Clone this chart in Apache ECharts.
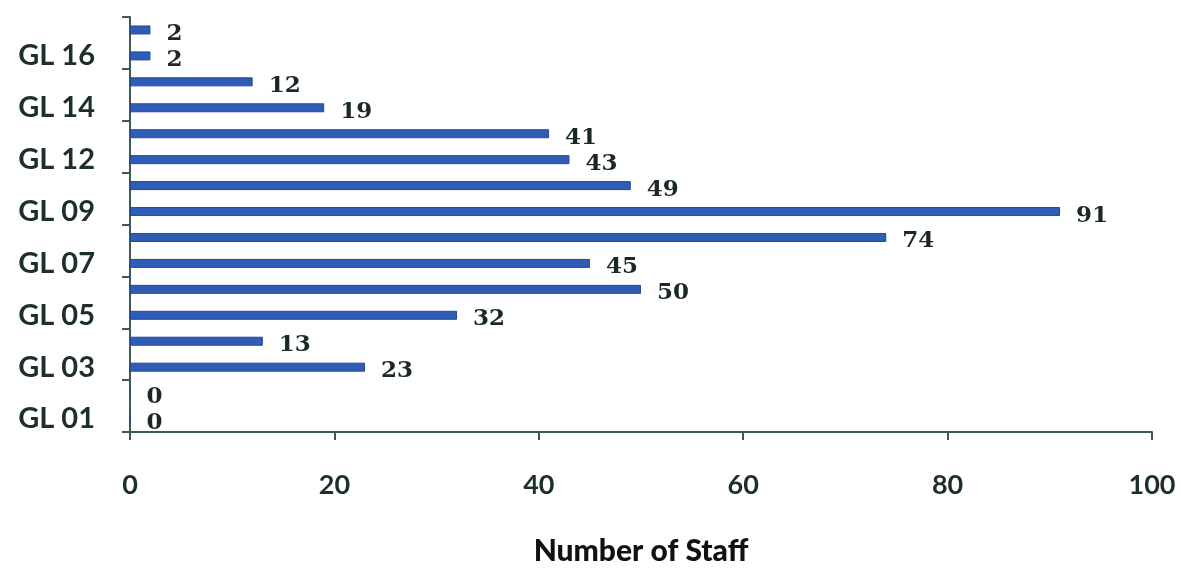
<!DOCTYPE html>
<html>
<head>
<meta charset="utf-8">
<script src="https://cdn.jsdelivr.net/npm/echarts@6/dist/echarts.min.js"></script>
<style>html,body{margin:0;padding:0;background:#fff}#c{width:1181px;height:571px}</style>
</head>
<body>
<div id="c"></div>
<script>
const categories = ['GL 01','GL 02','GL 03','GL 04','GL 05','GL 06','GL 07','GL 08','GL 09','GL 10','GL 12','GL 13','GL 14','GL 15','GL 16','GL 17'];
const staffCounts = [0, 0, 23, 13, 32, 50, 45, 74, 91, 49, 43, 41, 19, 12, 2, 2];
const xTicks = [0, 20, 40, 60, 80, 100];
const axisTitle = 'Number of Staff';

const textColor = '#1d3028';
const axisColor = '#3c5a55';
const chart = echarts.init(document.getElementById('c'), null, {renderer: 'canvas'});
chart.setOption({
  animation: false,
  backgroundColor: '#ffffff',
  grid: {left: 130, right: 29, top: 17, bottom: 136, containLabel: false},
  xAxis: {
    type: 'value', min: xTicks[0], max: xTicks[xTicks.length - 1], interval: 20,
    name: axisTitle, nameLocation: 'middle', nameGap: 104,
    nameTextStyle: {fontFamily: 'Lato', fontWeight: 900, fontSize: 30, color: '#111'},
    axisLine: {show: true, lineStyle: {color: axisColor, width: 2}},
    axisTick: {show: true, length: 8, lineStyle: {color: axisColor, width: 2}},
    splitLine: {show: false},
    axisLabel: {margin: 40, fontFamily: 'Lato', fontWeight: 'bold', fontSize: 27, color: textColor}
  },
  yAxis: {
    type: 'category', data: categories,
    axisLine: {show: true, lineStyle: {color: axisColor, width: 2}},
    axisTick: {show: true, length: 8, inside: false, lineStyle: {color: axisColor, width: 2}},
    axisLabel: {interval: 1, margin: 35, fontFamily: 'Lato', fontWeight: 'bold', fontSize: 29, color: textColor}
  },
  series: [{
    type: 'bar', data: staffCounts, barWidth: 9,
    itemStyle: {color: '#2f5cb6', borderColor: '#24479a', borderWidth: 1},
    label: {show: true, position: 'right', distance: 16, offset: [0, 4], fontFamily: 'DejaVu Serif', fontWeight: 'bold', fontSize: 23, color: '#1a2a22'}
  }]
});
</script>
</body>
</html>
